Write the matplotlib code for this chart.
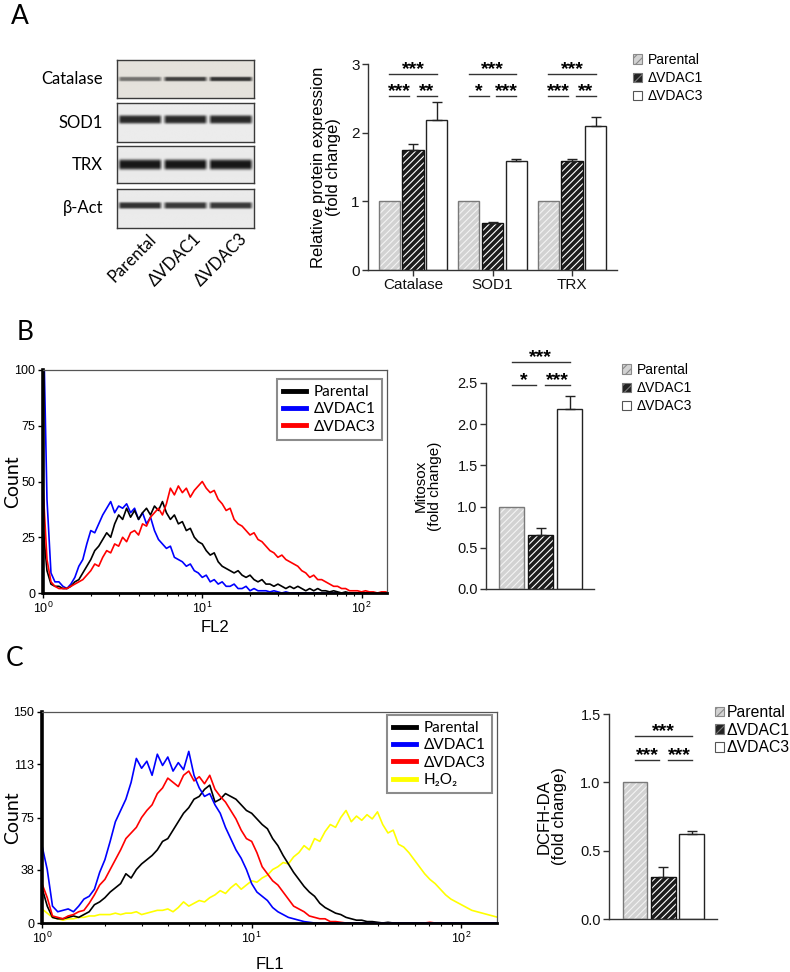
import numpy as np
import matplotlib
matplotlib.use('Agg')
import matplotlib.pyplot as plt
from matplotlib.patches import Patch
from matplotlib.lines import Line2D
from matplotlib.ticker import FormatStrFormatter

plt.rcParams['font.family'] = ['Liberation Sans', 'DejaVu Sans']
plt.rcParams['hatch.linewidth'] = 0.8

W, H = 790, 972

# ---------------- data ----------------
genotypes = ['Parental', 'ΔVDAC1', 'ΔVDAC3']

# panel A, western blot
blot_labels = ['Catalase', 'SOD1', 'TRX', 'β-Act']
band_level = [[0.55, 0.80, 0.86], [0.92, 0.92, 0.92], [1.0, 1.0, 1.0], [0.88, 0.84, 0.84]]
band_center = [0.50, 0.58, 0.50, 0.58]
band_sigma = [0.06, 0.11, 0.14, 0.085]
blot_bg = ['#e5e2dc', '#ececec', '#ebebeb', '#ebebeb']

# panel A, densitometry
proteins = ['Catalase', 'SOD1', 'TRX']
a_parental = [1.0, 1.0, 1.0]
a_vdac1 = [1.75, 0.69, 1.59]
a_vdac3 = [2.18, 1.59, 2.10]
a_err_vdac1 = [0.08, 0.015, 0.03]
a_err_vdac3 = [0.27, 0.02, 0.13]
a_sig = [('***', '***', '**'), ('***', '*', '***'), ('***', '***', '**')]

# panel B, mitosox bars
mitosox = [1.0, 0.65, 2.19]
mitosox_err = [0.0, 0.09, 0.15]
b_sig = ('***', '*', '***')

# panel C, DCFH-DA bars
dcfh = [1.0, 0.31, 0.62]
dcfh_err = [0.0, 0.07, 0.025]
c_sig = ('***', '***', '***')

# flow histograms, one value per 0.025 log10 step starting at 10^0
fl_step = 0.025
b_black = [30, 10, 4, 3, 3, 2, 2, 3, 5, 6,
           9, 12, 15, 19, 21, 24, 27, 25, 31, 35,
           33, 38, 34, 37, 33, 36, 38, 35, 39, 37,
           41, 36, 33, 35, 31, 32, 28, 29, 25, 23,
           22, 19, 17, 18, 14, 12, 11, 10, 9, 10,
           8, 7, 8, 6, 5, 6, 4, 4, 3, 4,
           3, 2, 3, 2, 3, 2, 1, 2, 1, 2,
           1, 1, 0.5, 1, 0.5, 0, 0.5, 0, 0, 0,
           0, 0, 0, 0, 0, 0, 0, 0]
b_blue = [130, 42, 9, 5, 5, 3, 2, 4, 7, 12,
          15, 22, 28, 27, 31, 35, 38, 41, 36, 39,
          38, 40, 36, 38, 33, 36, 31, 34, 28, 24,
          22, 20, 21, 16, 15, 14, 12, 13, 10, 9,
          7, 8, 5, 6, 4, 5, 3, 3, 4, 2,
          2, 3, 1, 2, 1, 1, 1, 0.5, 1, 0.5,
          0, 0.5, 0, 0, 0, 0, 0, 0, 0, 0,
          0, 0, 0, 0, 0, 0, 0, 0, 0, 0,
          0, 0, 0, 0, 0, 0, 0, 0]
b_red = [48, 15, 5, 3, 2, 2, 2, 3, 4, 5,
         6, 8, 10, 13, 12, 16, 19, 18, 22, 21,
         25, 23, 27, 28, 26, 31, 30, 34, 36, 38,
         35, 40, 47, 44, 48, 45, 47, 43, 46, 48,
         50, 47, 45, 46, 42, 40, 37, 38, 33, 31,
         30, 28, 26, 27, 24, 23, 21, 19, 18, 16,
         17, 15, 14, 13, 12, 10, 9, 7, 8, 6,
         6, 5, 4, 3, 3, 2, 2, 1, 1, 1,
         0.5, 1, 0.5, 0.5, 0, 0.5, 0.5, 0]

c_black = [25, 12, 4, 3, 3, 4, 5, 4, 6, 8,
           13, 15, 18, 22, 25, 28, 35, 32, 38, 42,
           45, 48, 52, 58, 60, 66, 72, 78, 82, 88,
           90, 95, 98, 86, 88, 92, 90, 88, 84, 80,
           78, 74, 70, 67, 60, 55, 48, 42, 36, 31,
           26, 22, 19, 14, 11, 9, 7, 6, 4, 3,
           2, 2, 1, 1, 0.5, 0, 0.5, 0, 0, 0,
           0, 0, 0, 0, 0, 0, 0, 0, 0, 0,
           0, 0, 0, 0, 0, 0, 0, 0]
c_blue = [55, 38, 12, 8, 9, 10, 8, 12, 17, 19,
          24, 36, 45, 58, 72, 80, 88, 100, 117, 110,
          115, 105, 120, 112, 118, 108, 114, 109, 122, 105,
          96, 90, 92, 84, 78, 68, 60, 52, 46, 38,
          28, 22, 19, 16, 11, 8, 6, 4, 3, 2,
          1, 0.5, 0, 0, 0, 0, 0, 0, 0, 0,
          0, 0, 0, 0, 0, 0, 0, 0, 0, 0,
          0, 0, 0, 0, 0, 0, 0, 0, 0, 0,
          0, 0, 0, 0, 0, 0, 0, 0]
c_red = [28, 18, 5, 4, 3, 5, 6, 8, 9, 14,
         20, 27, 31, 38, 45, 52, 60, 64, 68, 75,
         80, 84, 92, 96, 103, 100, 97, 105, 108, 101,
         104, 99, 105, 95, 90, 86, 80, 74, 66, 60,
         58, 50, 40, 35, 30, 27, 22, 17, 12, 10,
         8, 5, 4, 3, 3, 1, 1, 0.5, 0, 0,
         0, 0, 0, 0, 0, 0, 0, 0, 0, 0,
         0, 0, 0, 0, 0.5, 0, 0, 0, 0, 0,
         0, 0, 0, 0, 0, 0, 0, 0]
c_yellow = [10, 7, 4, 3, 2, 3, 3, 4, 4, 5,
            5, 6, 6, 6, 7, 6, 7, 7, 8, 6,
            7, 8, 9, 9, 10, 8, 11, 15, 12, 14,
            16, 15, 18, 20, 23, 21, 25, 28, 24, 27,
            30, 29, 32, 34, 38, 40, 43, 42, 47, 50,
            55, 52, 60, 58, 65, 70, 68, 75, 80, 72,
            76, 73, 77, 74, 79, 70, 64, 66, 56, 54,
            50, 45, 40, 35, 31, 28, 24, 20, 17, 15,
            13, 11, 9, 8, 7, 6, 5, 4]

# ---------------- styles ----------------
bar_style = {
    'Parental': dict(face='#d2d2d2', hatchc='#f3f3f3', hatch='/////', edge='#7a7a7a'),
    'ΔVDAC1': dict(face='#1c1c1c', hatchc='#ffffff', hatch='/////', edge='#111111'),
    'ΔVDAC3': dict(face='#ffffff', hatchc='#ffffff', hatch=None, edge='#222222'),
}
flow_colors = {'Parental': '#000000', 'ΔVDAC1': '#0000ff', 'ΔVDAC3': '#ff0000', 'H2O2': '#ffff00'}

fig = plt.figure(figsize=(W / 100, H / 100), dpi=100)


def box(x0, y0, x1, y1):
    return [x0 / W, 1 - y1 / H, (x1 - x0) / W, (y1 - y0) / H]


def ptext(x, y, s, **kw):
    fig.text(x / W, 1 - y / H, s, **kw)


# panel letters
ptext(20, 16, 'A', fontsize=19, family='Lato', ha='center', va='center')
ptext(25, 333, 'B', fontsize=19, family='Lato', ha='center', va='center')
ptext(15, 658, 'C', fontsize=19, family='Lato', ha='center', va='center')

# ---------------- western blot ----------------
blot_rows = [(60, 98), (103, 142), (146, 183), (189, 228)]
u = np.linspace(0, 1, 160)
v = np.linspace(0, 1, 60)
dark = np.array([0.09, 0.09, 0.09])
for k, name in enumerate(blot_labels):
    y0, y1 = blot_rows[k]
    bax = fig.add_axes(box(117, y0, 254, y1))
    lane = np.zeros_like(u)
    for i, lv in enumerate(band_level[k]):
        c = (i + 0.5) / 3
        lane = np.maximum(lane, lv * np.clip((0.168 - np.abs(u - c)) / 0.03, 0, 1))
    vert = np.exp(-((v - band_center[k]) / band_sigma[k]) ** 4)
    d = np.outer(vert, lane)[..., None]
    bg = np.array(matplotlib.colors.to_rgb(blot_bg[k]))
    img = bg * (1 - d) + dark * d
    bax.imshow(img, origin='lower', extent=[0, 1, 0, 1], aspect='auto')
    bax.set_xticks([])
    bax.set_yticks([])
    for s in bax.spines.values():
        s.set_color('#3a3a3a')
        s.set_linewidth(1.0)
    ptext(103, (y0 + y1) / 2, name, fontsize=12, family='Lato', ha='right', va='center')

for i, g in enumerate(genotypes):
    lx = 117 + (i + 0.5) * 137 / 3
    ptext(lx + 17, 240, g, fontsize=12, family=['Lato', 'DejaVu Sans'], ha='right',
          va='baseline', rotation=45, rotation_mode='anchor')


# ---------------- bar chart helpers ----------------
def draw_bars(ax, x, vals, errs, width, gname):
    st = bar_style[gname]
    ax.bar(x, vals, width, color=st['face'], edgecolor=st['hatchc'], hatch=st['hatch'],
           linewidth=0, zorder=2)
    ax.bar(x, vals, width, fill=False, edgecolor=st['edge'], linewidth=1.0, zorder=3)
    if any(e > 0 for e in errs):
        ax.errorbar(x, vals, yerr=[np.zeros(len(errs)), errs], fmt='none', ecolor='#222222',
                    elinewidth=1.0, capsize=3.5, capthick=1.0, zorder=4)


def sig_marks(ax, x0, x1, x2, y_top, y_low, labels, gap):
    kw = dict(color='#333333', lw=1.0, clip_on=False, zorder=5)
    tkw = dict(ha='center', va='baseline', fontsize=14, fontweight='bold', clip_on=False)
    ax.plot([x0, x2], [y_top, y_top], **kw)
    ax.text((x0 + x2) / 2, y_top, labels[0], **tkw)
    ax.plot([x0, x1 - gap], [y_low, y_low], **kw)
    ax.plot([x1 + gap, x2], [y_low, y_low], **kw)
    ax.text((x0 + x1 - gap) / 2, y_low, labels[1], **tkw)
    ax.text((x1 + gap + x2) / 2, y_low, labels[2], **tkw)


def style_bar_axes(ax, fs):
    for s in ['top', 'right']:
        ax.spines[s].set_visible(False)
    for s in ['left', 'bottom']:
        ax.spines[s].set_color('#333333')
        ax.spines[s].set_linewidth(1.0)
    ax.tick_params(axis='both', colors='#333333', labelcolor='#111111', labelsize=fs,
                   length=4, width=1.0, pad=2)


def bar_legend(ax, x_px, y_px, fs, spacing, hl=0.65, pad=0.4):
    handles = [Patch(facecolor='#d2d2d2', edgecolor='#8a8a8a', hatch='////', lw=0.8),
               Patch(facecolor='#222222', edgecolor='#777777', hatch='////', lw=0.8),
               Patch(facecolor='#ffffff', edgecolor='#555555', lw=0.8)]
    ax.legend(handles, genotypes, loc='upper left', bbox_to_anchor=(x_px / W, 1 - y_px / H),
              bbox_transform=fig.transFigure, frameon=False, borderpad=0, borderaxespad=0,
              handlelength=hl, handleheight=hl, handletextpad=pad, labelspacing=spacing,
              fontsize=fs)


# ---------------- panel A bars ----------------
axA = fig.add_axes(box(368, 64, 617, 270))
gx = np.arange(len(proteins))
offs = [-0.30, 0.0, 0.30]
wA = 0.265
draw_bars(axA, gx + offs[0], a_parental, [0, 0, 0], wA, 'Parental')
draw_bars(axA, gx + offs[1], a_vdac1, a_err_vdac1, wA, 'ΔVDAC1')
draw_bars(axA, gx + offs[2], a_vdac3, a_err_vdac3, wA, 'ΔVDAC3')
for i in range(len(proteins)):
    sig_marks(axA, gx[i] + offs[0], gx[i], gx[i] + offs[2], 2.85, 2.53, a_sig[i], 0.05)
axA.set_xlim(-0.566, 2.566)
axA.set_ylim(0, 3)
axA.set_yticks([0, 1, 2, 3])
axA.set_xticks(gx)
axA.set_xticklabels(proteins)
style_bar_axes(axA, 11)
axA.set_ylabel('Relative protein expression\n(fold change)', fontsize=12, linespacing=1.0)
axA.yaxis.set_label_coords((341 - 368) / 249, 0.5)
bar_legend(axA, 633, 53, 10, 0.3)

# ---------------- panel B bars ----------------
axB = fig.add_axes(box(486, 383, 594, 589))
bx = np.arange(3)
for i, g in enumerate(genotypes):
    draw_bars(axB, [bx[i]], [mitosox[i]], [mitosox_err[i]], 0.86, g)
sig_marks(axB, 0, 1, 2, 2.75, 2.48, b_sig, 0.15)
axB.set_xlim(-0.88, 2.84)
axB.set_ylim(0, 2.5)
axB.set_yticks([0, 0.5, 1.0, 1.5, 2.0, 2.5])
axB.yaxis.set_major_formatter(FormatStrFormatter('%.1f'))
axB.set_xticks([])
style_bar_axes(axB, 10.5)
axB.set_ylabel('Mitosox\n(fold change)', fontsize=11, linespacing=1.0)
axB.yaxis.set_label_coords((442 - 486) / 108, 0.5)
bar_legend(axB, 622, 363, 10, 0.3)

# ---------------- panel C bars ----------------
axC = fig.add_axes(box(609, 714, 717, 919))
for i, g in enumerate(genotypes):
    draw_bars(axC, [bx[i]], [dcfh[i]], [dcfh_err[i]], 0.87, g)
sig_marks(axC, 0, 1, 2, 1.34, 1.16, c_sig, 0.15)
axC.set_xlim(-0.92, 2.9)
axC.set_ylim(0, 1.5)
axC.set_yticks([0, 0.5, 1.0, 1.5])
axC.yaxis.set_major_formatter(FormatStrFormatter('%.1f'))
axC.set_xticks([])
style_bar_axes(axC, 10.5)
axC.set_ylabel('DCFH-DA\n(fold change)', fontsize=12, linespacing=1.0)
axC.yaxis.set_label_coords((567 - 609) / 108, 0.5)
bar_legend(axC, 715, 705, 11.3, 0.17, hl=0.55, pad=0.2)


# ---------------- flow histograms ----------------
def flow_panel(rect, curves, names, ymax, yticks, xlabel, xlab_y, ylab_x, leg_anchor, xmax):
    ax = fig.add_axes(rect)
    for vals, nm in curves:
        xs = 10 ** (fl_step * np.arange(len(vals)))
        ax.plot(xs, vals, color=flow_colors[nm], lw=1.2)
    ax.set_xscale('log')
    ax.set_xlim(1, xmax)
    ax.set_ylim(0, ymax)
    ax.set_yticks(yticks)
    ax.spines['left'].set_linewidth(2.6)
    ax.spines['bottom'].set_linewidth(2.0)
    for s in ['top', 'right']:
        ax.spines[s].set_linewidth(0.9)
        ax.spines[s].set_color('#555555')
    ax.tick_params(axis='both', which='major', labelsize=9, length=3.5, width=1.0, pad=2)
    ax.tick_params(axis='x', which='minor', length=2.5, width=0.8)
    ax.set_ylabel('Count', fontsize=14, family='Lato')
    ax.yaxis.set_label_coords(ylab_x, 0.5)
    ax.set_xlabel(xlabel, fontsize=12)
    ax.xaxis.set_label_coords(0.5, xlab_y)
    handles = [Line2D([], [], color=flow_colors[nm], lw=3.5) for nm in names]
    labels = ['H₂O₂' if nm == 'H2O2' else nm for nm in names]
    leg = ax.legend(handles, labels, loc='upper right', bbox_to_anchor=leg_anchor,
                    borderaxespad=0, fancybox=False, framealpha=1, edgecolor='#8c8c8c',
                    borderpad=0.4, handlelength=1.5, handletextpad=0.5, labelspacing=0.22,
                    prop=dict(family=['Lato', 'DejaVu Sans'], size=11))
    leg.get_frame().set_linewidth(1.5)
    return ax


flow_panel(box(43, 370, 387, 593),
           [(b_blue, 'ΔVDAC1'), (b_black, 'Parental'), (b_red, 'ΔVDAC3')],
           ['Parental', 'ΔVDAC1', 'ΔVDAC3'], 100, [0, 25, 50, 75, 100], 'FL2',
           -(620 - 593) / 223, (21 - 43) / 344, ((382 - 43) / 344, (593 - 379) / 223), 10 ** 2.16)

flow_panel(box(42, 712, 497, 923),
           [(c_yellow, 'H2O2'), (c_black, 'Parental'), (c_red, 'ΔVDAC3'), (c_blue, 'ΔVDAC1')],
           ['Parental', 'ΔVDAC1', 'ΔVDAC3', 'H2O2'], 150, [0, 38, 75, 113, 150], 'FL1',
           -(957 - 923) / 211, (21 - 42) / 455, ((492 - 42) / 455, (923 - 715) / 211), 10 ** 2.17)

fig.savefig('out.png', dpi=100)
